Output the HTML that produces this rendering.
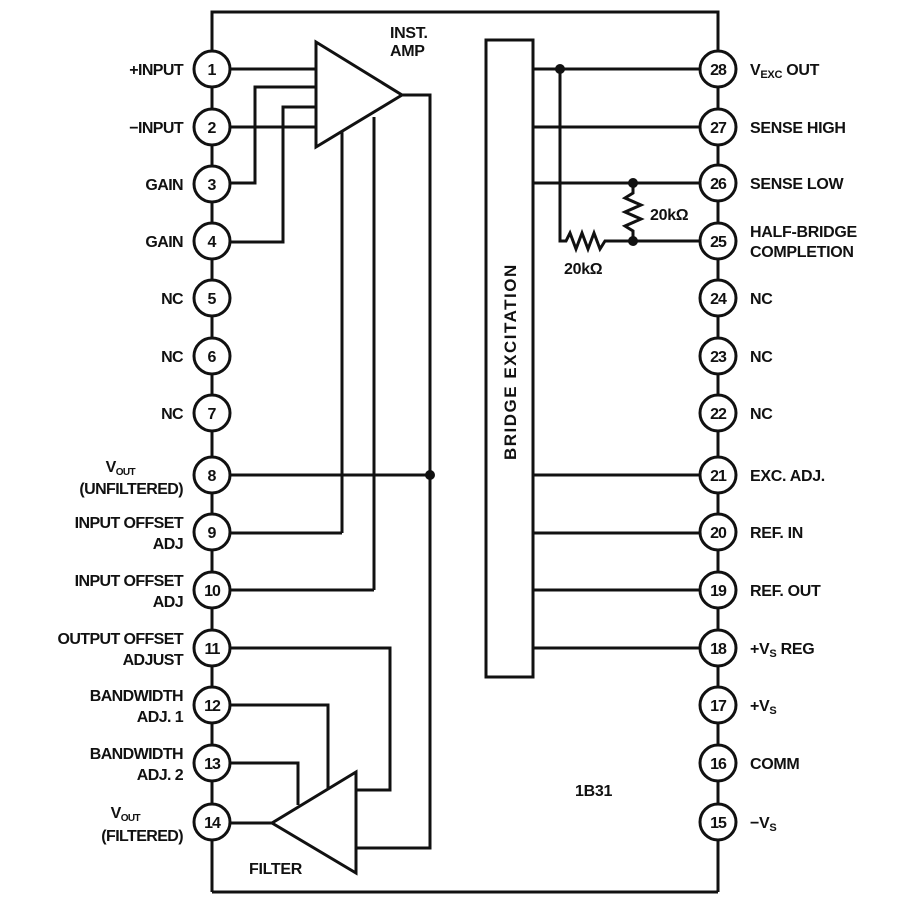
<!DOCTYPE html>
<html><head><meta charset="utf-8"><style>
html,body{margin:0;padding:0;background:#fff;}
svg{display:block;}
text{font-family:"Liberation Sans",sans-serif;font-weight:bold;fill:#111;}
</style></head><body>
<svg width="900" height="901" viewBox="0 0 900 901" xmlns="http://www.w3.org/2000/svg">
<g stroke="#111" stroke-width="3" fill="none" stroke-linejoin="miter">
<polyline points="212,69 212,12 718,12 718,69"/>
<line x1="212" y1="69" x2="212" y2="892"/>
<line x1="718" y1="69" x2="718" y2="892"/>
<line x1="212" y1="892" x2="718" y2="892"/>
<polygon points="316,42 316,147 402,95" fill="#fff"/>
<line x1="230" y1="69" x2="316" y2="69"/>
<line x1="230" y1="127" x2="316" y2="127"/>
<polyline points="230,183 255,183 255,87 316,87"/>
<polyline points="230,242 283,242 283,107 316,107"/>
<polyline points="402,95 430,95 430,848 356,848"/>
<line x1="342" y1="132" x2="342" y2="533"/>
<line x1="374" y1="117" x2="374" y2="590"/>
<line x1="230" y1="475" x2="430" y2="475"/>
<line x1="230" y1="533" x2="342" y2="533"/>
<line x1="230" y1="590" x2="374" y2="590"/>
<polygon points="356,772 356,873 272,823" fill="#fff"/>
<line x1="230" y1="823" x2="272" y2="823"/>
<polyline points="230,648 390,648 390,790 356,790"/>
<polyline points="230,705 328,705 328,788"/>
<polyline points="230,763 298,763 298,805"/>
<rect x="486" y="40" width="47" height="637" fill="#fff"/>
<line x1="533" y1="69" x2="700" y2="69"/>
<line x1="533" y1="127" x2="700" y2="127"/>
<line x1="533" y1="183" x2="700" y2="183"/>
<line x1="533" y1="475" x2="700" y2="475"/>
<line x1="533" y1="533" x2="700" y2="533"/>
<line x1="533" y1="590" x2="700" y2="590"/>
<line x1="533" y1="648" x2="700" y2="648"/>
<polyline points="560,69 560,241 566,241 570,233 576,249 582,233 588,249 594,233 600,249 605,241 700,241"/>
<polyline points="633,183 633,193 625,198 641,205 625,212 641,219 625,226 633,231 633,241"/>
</g>
<g fill="#111">
<circle cx="430" cy="475" r="5"/>
<circle cx="560" cy="69" r="5"/>
<circle cx="633" cy="183" r="5"/>
<circle cx="633" cy="241" r="5"/>
</g>
<g stroke="#111" stroke-width="3" fill="#fff">
<circle cx="212" cy="69" r="18"/><circle cx="212" cy="127" r="18"/><circle cx="212" cy="184" r="18"/><circle cx="212" cy="241" r="18"/>
<circle cx="212" cy="298" r="18"/><circle cx="212" cy="356" r="18"/><circle cx="212" cy="413" r="18"/><circle cx="212" cy="475" r="18"/>
<circle cx="212" cy="532" r="18"/><circle cx="212" cy="590" r="18"/><circle cx="212" cy="648" r="18"/><circle cx="212" cy="705" r="18"/>
<circle cx="212" cy="763" r="18"/><circle cx="212" cy="822" r="18"/>
<circle cx="718" cy="69" r="18"/><circle cx="718" cy="127" r="18"/><circle cx="718" cy="183" r="18"/><circle cx="718" cy="241" r="18"/>
<circle cx="718" cy="298" r="18"/><circle cx="718" cy="356" r="18"/><circle cx="718" cy="413" r="18"/><circle cx="718" cy="475" r="18"/>
<circle cx="718" cy="532" r="18"/><circle cx="718" cy="590" r="18"/><circle cx="718" cy="648" r="18"/><circle cx="718" cy="705" r="18"/>
<circle cx="718" cy="763" r="18"/><circle cx="718" cy="822" r="18"/>
</g>
<g font-size="16" text-anchor="middle">
<text x="212" y="75">1</text><text x="212" y="133">2</text><text x="212" y="190">3</text><text x="212" y="247">4</text>
<text x="212" y="304">5</text><text x="212" y="362">6</text><text x="212" y="419">7</text><text x="212" y="481">8</text>
<text x="212" y="538">9</text><text x="212" y="596" letter-spacing="-1">10</text><text x="212" y="654" letter-spacing="-1">11</text><text x="212" y="711" letter-spacing="-1">12</text>
<text x="212" y="769" letter-spacing="-1">13</text><text x="212" y="828" letter-spacing="-1">14</text>
<text x="718" y="75" letter-spacing="-1">28</text><text x="718" y="133" letter-spacing="-1">27</text><text x="718" y="189" letter-spacing="-1">26</text><text x="718" y="247" letter-spacing="-1">25</text>
<text x="718" y="304" letter-spacing="-1">24</text><text x="718" y="362" letter-spacing="-1">23</text><text x="718" y="419" letter-spacing="-1">22</text><text x="718" y="481" letter-spacing="-1">21</text>
<text x="718" y="538" letter-spacing="-1">20</text><text x="718" y="596" letter-spacing="-1">19</text><text x="718" y="654" letter-spacing="-1">18</text><text x="718" y="711" letter-spacing="-1">17</text>
<text x="718" y="769" letter-spacing="-1">16</text><text x="718" y="828" letter-spacing="-1">15</text>
</g>
<g font-size="16" text-anchor="end" letter-spacing="-0.6">
<text x="183" y="75">+INPUT</text>
<text x="183" y="133">−INPUT</text>
<text x="183" y="190">GAIN</text>
<text x="183" y="247">GAIN</text>
<text x="183" y="304">NC</text>
<text x="183" y="362">NC</text>
<text x="183" y="419">NC</text>
<text x="135" y="472">V<tspan font-size="10" dy="3">OUT</tspan></text>
<text x="183" y="494">(UNFILTERED)</text>
<text x="183" y="528">INPUT OFFSET</text>
<text x="183" y="549">ADJ</text>
<text x="183" y="586">INPUT OFFSET</text>
<text x="183" y="607">ADJ</text>
<text x="183" y="644">OUTPUT OFFSET</text>
<text x="183" y="665">ADJUST</text>
<text x="183" y="701">BANDWIDTH</text>
<text x="183" y="722">ADJ. 1</text>
<text x="183" y="759">BANDWIDTH</text>
<text x="183" y="780">ADJ. 2</text>
<text x="140" y="818">V<tspan font-size="10" dy="3">OUT</tspan></text>
<text x="183" y="841">(FILTERED)</text>
</g>
<g font-size="16" letter-spacing="-0.3">
<text x="750" y="75">V<tspan font-size="11" dy="3">EXC</tspan><tspan dy="-3"> OUT</tspan></text>
<text x="750" y="133">SENSE HIGH</text>
<text x="750" y="189">SENSE LOW</text>
<text x="750" y="237">HALF-BRIDGE</text>
<text x="750" y="257">COMPLETION</text>
<text x="750" y="304">NC</text>
<text x="750" y="362">NC</text>
<text x="750" y="419">NC</text>
<text x="750" y="481">EXC. ADJ.</text>
<text x="750" y="538">REF. IN</text>
<text x="750" y="596">REF. OUT</text>
<text x="750" y="654">+V<tspan font-size="11" dy="3">S</tspan><tspan dy="-3"> REG</tspan></text>
<text x="750" y="711">+V<tspan font-size="11" dy="3">S</tspan></text>
<text x="750" y="769">COMM</text>
<text x="750" y="828">−V<tspan font-size="11" dy="3">S</tspan></text>
<text x="390" y="38">INST.</text>
<text x="390" y="56">AMP</text>
<text x="249" y="874">FILTER</text>
<text x="575" y="796">1B31</text>
<text x="650" y="220">20kΩ</text>
<text x="564" y="274">20kΩ</text>
<text transform="translate(516,460) rotate(-90)" font-size="17" letter-spacing="1.5">BRIDGE EXCITATION</text>
</g>
</svg>
</body></html>
